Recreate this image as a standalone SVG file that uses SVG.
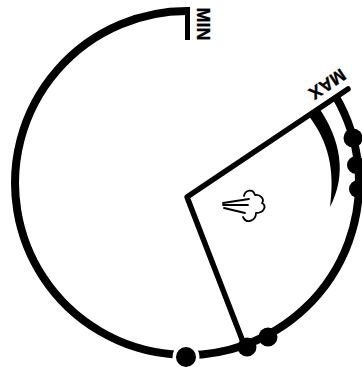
<svg xmlns="http://www.w3.org/2000/svg" width="362" height="367" viewBox="0 0 362 367">
<style>
.l{fill:none;stroke:#000;stroke-width:5.5;stroke-linecap:round;stroke-linejoin:round}
.t{font-family:"Liberation Sans",Arial,sans-serif;font-weight:700;font-size:18px;text-anchor:middle;fill:#000;stroke:#000;stroke-width:.3}
.d{fill:#000}
</style>
<rect width="362" height="367" fill="#fff"/>
<g id="connectors">
<path d="M190 11A172 172 0 1 0 336 97" fill="none" stroke="#000" stroke-width="8"/>
<path d="M187.500 8V40" fill="none" stroke="#000" stroke-width="5"/>
<path class="l" d="M348 89L187 197L245 347"/>
<path class="d" d="M308 115L319 108C341 140 347 175 330 207C335 170 329 142 308 115Z"/>
</g>
<g id="min"><text class="t" transform="translate(197 24) rotate(90)">MIN</text></g>
<g id="max"><text class="t" transform="translate(324 79) rotate(146)">MAX</text></g>
<g id="dots">
<circle cx="186" cy="357" r="13.500" fill="#fff"/>
<circle class="d" cx="186" cy="357" r="10"/>
<circle class="d" cx="247" cy="347" r="9.500"/>
<circle class="d" cx="268" cy="337" r="9.500"/>
<circle class="d" cx="353" cy="138" r="9.500"/>
<circle class="d" cx="356" cy="165" r="9"/>
<circle class="d" cx="358" cy="189" r="9"/>
</g>
<g id="icon" fill="none" stroke="#000" stroke-width="1.8" stroke-linejoin="round" stroke-linecap="round">
<path d="M223 203L249 199M223 205L248 205M224 208L245 213"/>
<path d="M244 196C245 190 253 188 255 195C260 194 265 199 262 203C267 206 264 213 256 213C256 220 247 225 243 217"/>
</g>
</svg>
